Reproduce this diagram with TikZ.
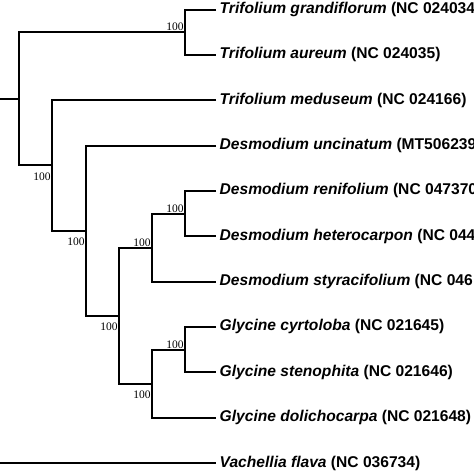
\documentclass[tikz,border=0pt]{standalone}
\usepackage{fontspec}
\setmainfont{Liberation Sans}
\newfontfamily\bootfont{Liberation Serif}

\begin{document}
\begin{tikzpicture}[x=1pt,y=-1pt,
  taxon/.style={anchor=west,inner xsep=3.5pt,inner ysep=0pt,
    font=\fontsize{15.6}{18}\selectfont\bfseries},
  branch/.style={draw=black,line width=2pt,line join=miter},
  boot/.style={font=\bootfont\fontsize{11.5}{13}\selectfont,inner sep=1.2pt},
  bootlow/.style={boot,below left,yshift=-6pt}
]
\clip (0,0) rectangle (474,474);
% tips
\node[taxon] (tgra) at (216,9.5)   {\textit{Trifolium grandiflorum} (NC 024034)};
\node[taxon] (taur) at (216,54.9)  {\textit{Trifolium aureum} (NC 024035)};
\node[taxon] (tmed) at (216,100.2) {\textit{Trifolium meduseum} (NC 024166)};
\node[taxon] (dunc) at (216,145.6) {\textit{Desmodium uncinatum} (MT506239)};
\node[taxon] (dren) at (216,190.9) {\textit{Desmodium renifolium} (NC 047370)};
\node[taxon] (dhet) at (216,236.3) {\textit{Desmodium heterocarpon} (NC 044};
\node[taxon] (dsty) at (216,281.6) {\textit{Desmodium styracifolium} (NC 046};
\node[taxon] (gcyr) at (216,326.9) {\textit{Glycine cyrtoloba} (NC 021645)};
\node[taxon] (gste) at (216,372.3) {\textit{Glycine stenophita} (NC 021646)};
\node[taxon] (gdol) at (216,417.7) {\textit{Glycine dolichocarpa} (NC 021648)};
\node[taxon] (vfla) at (216,463)   {\textit{Vachellia flava} (NC 036734)};
% internal nodes
\coordinate (ntri) at (185,32.2);
\coordinate (nda)  at (185,213.6);
\coordinate (ndb)  at (152,247.6);
\coordinate (nga)  at (185,349.6);
\coordinate (ngb)  at (152,383.6);
\coordinate (ndg)  at (119,315.6);
\coordinate (ndu)  at (86,230.6);
\coordinate (nme)  at (52,165.4);
\coordinate (nroot) at (19,98.8);
\coordinate (stub) at (-2,98.8);
\coordinate (vstub) at (-2,463);
% branches
\draw[branch] (tgra.west) -| (ntri) |- (taur.west);
\draw[branch] (dren.west) -| (nda) |- (dhet.west);
\draw[branch] (nda) -| (ndb) |- (dsty.west);
\draw[branch] (gcyr.west) -| (nga) |- (gste.west);
\draw[branch] (nga) -| (ngb) |- (gdol.west);
\draw[branch] (ndb) -| (ndg) |- (ngb);
\draw[branch] (dunc.west) -| (ndu) |- (ndg);
\draw[branch] (tmed.west) -| (nme) |- (ndu);
\draw[branch] (ntri) -| (nroot) |- (nme);
\draw[branch] (stub) -- (nroot);
\draw[branch] (vstub) -- (vfla.west);
% bootstrap values
\node[boot,above left] at (ntri) {100};
\node[boot,above left] at (nda) {100};
\node[boot,above left] at (ndb) {100};
\node[boot,above left] at (nga) {100};
\node[bootlow] at (ngb) {100};
\node[bootlow] at (ndg) {100};
\node[bootlow] at (ndu) {100};
\node[bootlow] at (nme) {100};
\end{tikzpicture}
\end{document}
